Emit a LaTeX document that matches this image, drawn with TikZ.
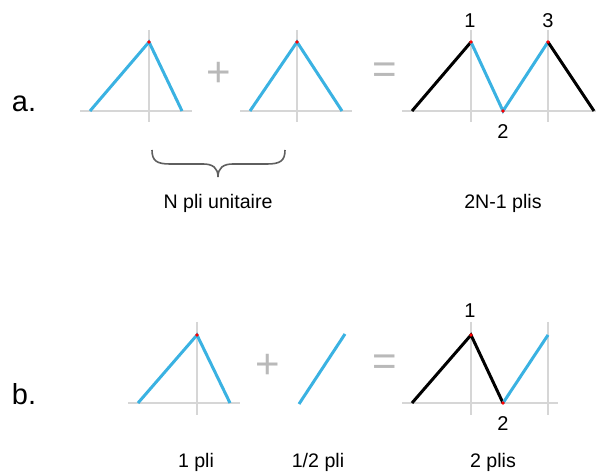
\documentclass[tikz,border=0pt]{standalone}
\usepackage{fontspec}
\setmainfont{Liberation Sans}
\definecolor{foldblue}{RGB}{58,178,226}
\definecolor{axisgrey}{RGB}{214,214,214}
\definecolor{signgrey}{RGB}{185,185,185}
\definecolor{bracegrey}{RGB}{95,95,95}
\begin{document}
\begin{tikzpicture}[x=0.5pt, y=-0.5pt,
    fold/.style={draw=foldblue, line width=1.5pt, line join=miter},
    crease/.style={draw=black, line width=1.5pt},
    axis/.style={draw=axisgrey, line width=0.8pt},
    sign/.style={text=signgrey, inner sep=0pt, font=\fontsize{21}{21}\selectfont},
    num/.style={inner sep=0pt, font=\fontsize{10}{10}\selectfont},
    caption/.style={anchor=base, inner sep=0pt, font=\fontsize{9.8}{10}\selectfont},
    rowlabel/.style={inner sep=0pt, font=\fontsize{14.5}{15}\selectfont}]
    \useasboundingbox (0, 0) rectangle (596, 475);

    % Row a
    \node[rowlabel] (labela) at (24, 104) {a.};

    % first unit fold
    \draw[axis] (80, 111) -- (192, 111);
    \draw[axis] (149, 30) -- (149, 122);
    \draw[fold] (90, 111) -- (149, 42) -- (182, 111);
    \fill[red] (149, 42) circle (1.8);
    \node[sign] (plusa) at (219, 74) {+};

    % second unit fold
    \draw[axis] (240, 111) -- (352, 111);
    \draw[axis] (297, 30) -- (297, 122);
    \draw[fold] (250, 111) -- (297, 42) -- (342, 111);
    \fill[red] (297, 42) circle (1.8);
    \node[sign] (equala) at (385, 73) {=};

    % result
    \draw[axis] (402, 111) -- (596, 111);
    \draw[axis] (471, 30) -- (471, 122);
    \draw[axis] (548, 30) -- (548, 122);
    \draw[crease] (412, 111) -- (471, 42);
    \draw[fold] (471, 42) -- (503, 111) -- (548, 42);
    \draw[crease] (548, 42) -- (594, 111);
    \fill[red] (471, 42) circle (1.8) (503, 111) circle (1.8) (548, 42) circle (1.8);
    \node[num] (a1) at (470, 21) {1};
    \node[num] (a2) at (503, 132) {2};
    \node[num] (a3) at (548, 21) {3};

    % Brace
    \draw[bracegrey, line width=0.8pt] (152, 150) .. controls (152, 161) and (157, 164) .. (170, 164)
        -- (203, 164) .. controls (213, 164) and (218, 168) .. (218, 177);
    \draw[bracegrey, line width=0.8pt] (285, 150) .. controls (285, 161) and (280, 164) .. (267, 164)
        -- (233, 164) .. controls (223, 164) and (218, 168) .. (218, 177);
    \node[caption] (capa1) at (218, 209) {N pli unitaire};
    \node[caption] (capa2) at (503, 209) {2N-1 plis};

    % Row b
    \node[rowlabel] (labelb) at (24, 394) {b.};

    % unit fold
    \draw[axis] (128, 403) -- (240, 403);
    \draw[axis] (197, 322) -- (197, 415);
    \draw[fold] (138, 403) -- (197, 335) -- (230, 403);
    \fill[red] (197, 335) circle (1.8);
    \node[sign] (plusb) at (268, 366) {+};

    % half fold
    \draw[fold] (299, 404) -- (345, 334);
    \node[sign] (equalb) at (385, 365) {=};

    % result
    \draw[axis] (402, 403) -- (558, 403);
    \draw[axis] (471, 322) -- (471, 415);
    \draw[axis] (548, 322) -- (548, 415);
    \draw[crease] (412, 403) -- (471, 335) -- (503, 403);
    \draw[fold] (503, 403) -- (548, 335);
    \fill[red] (471, 335) circle (1.8) (503, 403) circle (1.8);
    \node[num] (b1) at (470, 311) {1};
    \node[num] (b2) at (503, 424) {2};

    \node[caption] (capb1) at (196, 468) {1 pli};
    \node[caption] (capb2) at (318, 468) {1/2 pli};
    \node[caption] (capb3) at (493, 468) {2 plis};
\end{tikzpicture}
\end{document}
